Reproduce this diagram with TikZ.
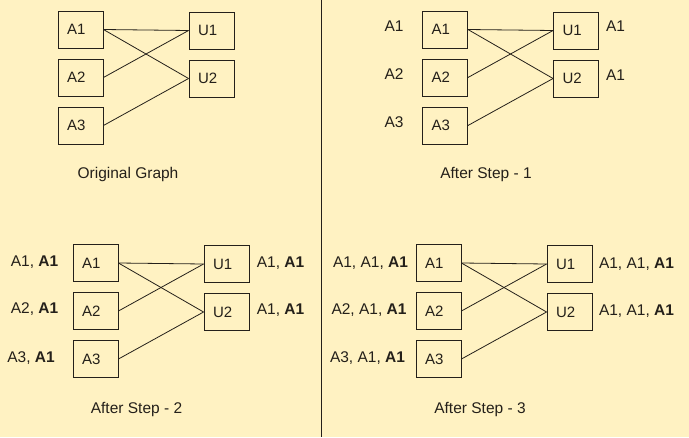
\documentclass[tikz,border=0pt]{standalone}
\usepackage{fontspec}
\setmainfont{Liberation Sans}
\definecolor{bgyellow}{RGB}{255,242,194}
\definecolor{ink}{RGB}{36,32,26}
\tikzset{
  vbox/.style={draw=ink, line width=0.9pt, minimum width=45pt, minimum height=37pt,
    text width=27pt, inner xsep=9pt, inner ysep=0pt, align=left,
    text height=10.8pt, text depth=0pt, text=ink, font=\fontsize{15}{17}\selectfont},
  lbl/.style={inner sep=0pt, text height=11pt, text depth=0pt, text=ink,
    font=\fontsize{15.5}{17}\selectfont},
  edge/.style={draw=ink, line width=0.8pt}
}
\newcommand\bipgraph[1]{%
  \node[vbox] (#1a1) at (80.5,29.5) {A1};
  \node[vbox] (#1a2) at (80.5,77.5) {A2};
  \node[vbox] (#1a3) at (80.5,125.5) {A3};
  \node[vbox] (#1u1) at (211.5,30.5) {U1};
  \node[vbox] (#1u2) at (211.5,78.5) {U2};
  \draw[edge] (#1a1.east) -- (#1u1.west);
  \draw[edge] (#1a1.east) -- (#1u2.west);
  \draw[edge] (#1a2.east) -- (#1u1.west);
  \draw[edge] (#1a3.east) -- (#1u2.west);
}
\begin{document}
\begin{tikzpicture}[x=1pt,y=-1pt]
\fill[bgyellow] (0,0) rectangle (689,437);
\useasboundingbox (0,0) rectangle (689,437);
% divider
\coordinate (divtop) at (321,0);
\coordinate (divbot) at (321,437);
\draw[ink, line width=1pt] (divtop) -- (divbot);
% panel 1
\begin{scope}\bipgraph{p}\end{scope}
\node[lbl] (cap1) at (128,173) {Original Graph};
% panel 2
\begin{scope}[shift={(364.5,0)}]\bipgraph{q}\end{scope}
\node[lbl] (q1l) at (394,26) {A1};
\node[lbl] (q2l) at (394,73.5) {A2};
\node[lbl] (q3l) at (394,122) {A3};
\node[lbl] (q1r) at (615.5,26) {A1};
\node[lbl] (q2r) at (615.5,75) {A1};
\node[lbl] (cap2) at (486,173) {After Step - 1};
% panel 3
\begin{scope}[shift={(15,233.5)}]\bipgraph{r}\end{scope}
\node[lbl] (r1l) at (34.5,261) {A1, \textbf{A1}};
\node[lbl] (r2l) at (34.5,308) {A2, \textbf{A1}};
\node[lbl] (r3l) at (31,357) {A3, \textbf{A1}};
\node[lbl] (r1r) at (280.5,262) {A1, \textbf{A1}};
\node[lbl] (r2r) at (280.5,309) {A1, \textbf{A1}};
\node[lbl] (cap3) at (136.5,408) {After Step - 2};
% panel 4
\begin{scope}[shift={(358,233.5)}]\bipgraph{s}\end{scope}
\node[lbl] (s1l) at (370.5,262) {A1, A1, \textbf{A1}};
\node[lbl] (s2l) at (369,309) {A2, A1, \textbf{A1}};
\node[lbl] (s3l) at (367.5,357) {A3, A1, \textbf{A1}};
\node[lbl] (s1r) at (636.5,263) {A1, A1, \textbf{A1}};
\node[lbl] (s2r) at (636.5,310) {A1, A1, \textbf{A1}};
\node[lbl] (cap4) at (480,408) {After Step - 3};
\end{tikzpicture}
\end{document}
